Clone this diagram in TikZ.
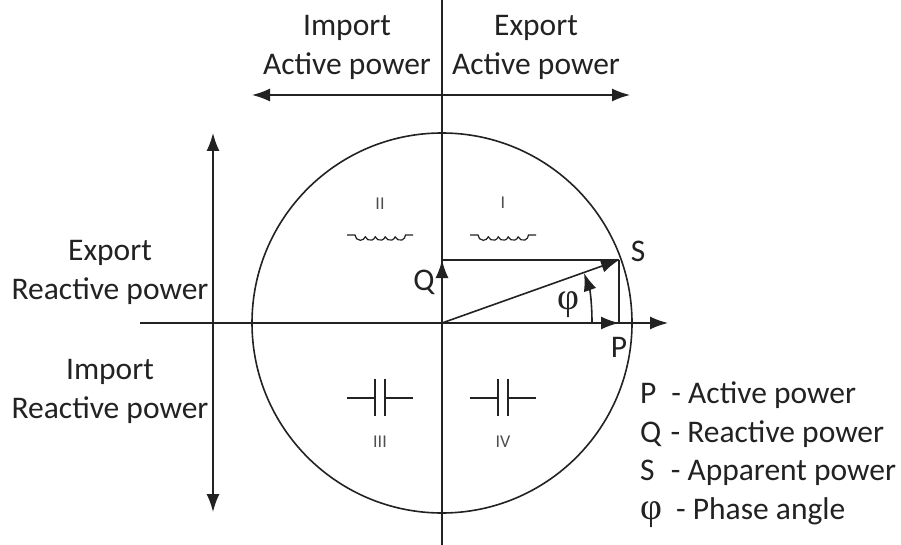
\documentclass[tikz,border=0pt]{standalone}
\usepackage{fontspec}
\setmainfont{Carlito}
\newfontfamily\phifont{Liberation Serif}
\usetikzlibrary{arrows.meta}
\definecolor{ink}{HTML}{222222}
\newcommand{\phibig}{{\fontsize{38}{38}\selectfont\phifont φ}}
\tikzset{
  x=1pt,y=-1pt,
  line/.style={draw=ink,line width=1.6pt},
  arr/.style={line,-{Latex[length=18pt,width=13pt]}},
  arrs/.style={line,{Latex[length=18pt,width=13pt]}-{Latex[length=18pt,width=13pt]}},
  big/.style={font=\fontsize{31.5}{39.5}\selectfont,text=ink,inner sep=0pt,align=center},
  small/.style={font=\fontsize{18}{20}\selectfont,text=ink!80,inner sep=0pt},
  legend/.style={big,anchor=west},
}
\begin{document}
\begin{tikzpicture}
\useasboundingbox (0,0) rectangle (901,545);
\fill[white] (0,0) rectangle (901,545);
\coordinate (O) at (442,323);
\coordinate (topE) at (442,0);
\coordinate (botE) at (442,545);
\coordinate (leftE) at (140,323);
\coordinate (rightE) at (668,323);
\coordinate (S) at (619,260);
\coordinate (Pp) at (619,323);
\coordinate (Qp) at (442,260);
\coordinate (hL) at (252,95);
\coordinate (hR) at (630,95);
\coordinate (vT) at (213,133);
\coordinate (vB) at (213,512);
\draw[line] (O) circle[radius=190];
\draw[line] (topE) -- (botE);
\draw[arr] (leftE) -- (rightE);
\draw[arrs] (hL) -- (hR);
\draw[arrs] (vT) -- (vB);
\draw[arr] (O) -- (Qp);
\draw[line] (Qp) -- (S);
\draw[arr] (O) -- (S);
\draw[arr] (O) -- (Pp);
\draw[line] (S) -- (Pp);
\draw[arr] (592,323) .. controls (592,304) and (590,290) .. (584,273);
% texts
\node[big] (imp) at (347,47.5) {Import\\Active power};
\node[big] (exp) at (536,47.5) {Export\\Active power};
\node[big] (ex2) at (110,272.5) {Export\\Reactive power};
\node[big] (im2) at (110,391.5) {Import\\Reactive power};
\node[big] (q) at (424,282) {Q};
\node[big] (s) at (638,251) {S};
\node[big] (p) at (619,347) {P};
\node[big] (ph) at (568,305) {\phibig};
\node[small] (n2) at (380,204) {II};
\node[small] (n1) at (503,203) {I};
\node[small] (n3) at (380,442) {III};
\node[small] (n4) at (503,442) {IV};
% inductors
\foreach \cx in {380,503}{
 \draw[draw=ink,line width=1.2pt] (\cx-33,235) -- (\cx-25,235)
  arc[start angle=180,end angle=20,radius=5.3]
  arc[start angle=160,end angle=20,radius=5.3]
  arc[start angle=160,end angle=20,radius=5.3]
  arc[start angle=160,end angle=20,radius=5.3]
  arc[start angle=160,end angle=0,radius=5.3] -- (\cx+33,235);
}
% capacitors
\foreach \cx in {380,503}{
 \draw[draw=ink,line width=1.4pt] (\cx-33,398) -- (\cx-5,398)
   (\cx-5,379) -- (\cx-5,416) (\cx+5,379) -- (\cx+5,416) (\cx+5,398) -- (\cx+33,398);
}
\node[legend] (l1) at (640,395) {P\hspace{15pt}- Active power};
\node[legend] (l2) at (640,434) {Q\hspace{2pt} - Reactive power};
\node[legend] (l3) at (640,473) {S\hspace{9pt} - Apparent power};
\node[legend] (l4) at (640,513) {\phibig\hspace{14pt}- Phase angle};
\end{tikzpicture}
\end{document}
